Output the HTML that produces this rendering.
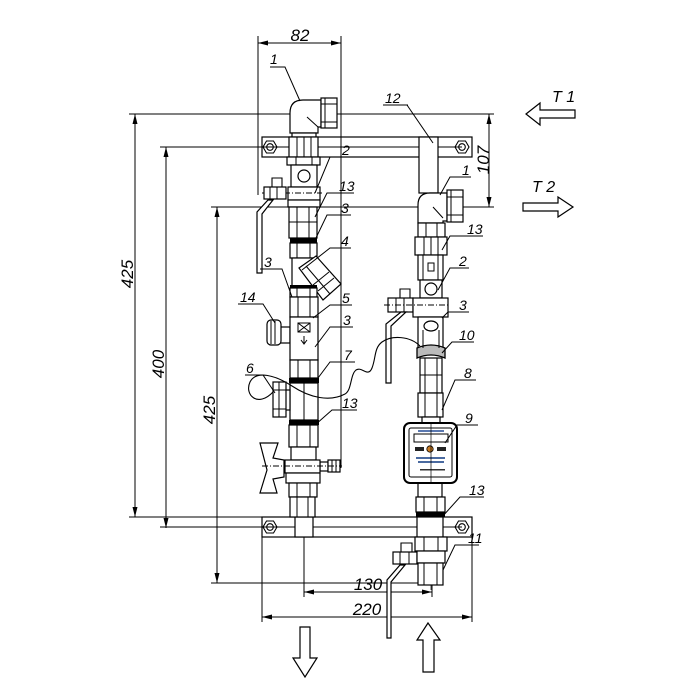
<!DOCTYPE html>
<html><head><meta charset="utf-8"><style>
html,body{margin:0;padding:0;background:#fff}
svg{display:block}
.p{fill:#fff;stroke:#000;stroke-width:1.2}
.t{font-family:"Liberation Sans",sans-serif;font-style:italic;fill:#000}
</style></head><body>
<svg width="700" height="700" viewBox="0 0 700 700" xmlns="http://www.w3.org/2000/svg">
<rect width="700" height="700" fill="#fff"/>
<!-- brackets -->
<rect x="262" y="137" width="210" height="20" class="p"/>
<rect x="262" y="517" width="210" height="20" class="p"/>
<g fill="#fff" stroke="#000" stroke-width="1.1">
<polygon points="277,147 273.5,153 266.5,153 263,147 266.5,141 273.5,141"/><circle cx="270" cy="147" r="3.3"/>
<polygon points="469,147 465.5,153 458.5,153 455,147 458.5,141 465.5,141"/><circle cx="462" cy="147" r="3.3"/>
<polygon points="277,527 273.5,533 266.5,533 263,527 266.5,521 273.5,521"/><circle cx="270" cy="527" r="3.3"/>
<polygon points="469,527 465.5,533 458.5,533 455,527 458.5,521 465.5,521"/><circle cx="462" cy="527" r="3.3"/>
</g>
<!-- dimension lines -->
<g stroke="#000" stroke-width="1" fill="none">
<line x1="258" y1="36" x2="258" y2="195"/>
<line x1="341" y1="36" x2="341" y2="468"/>
<line x1="258" y1="43" x2="341" y2="43"/>
<line x1="129" y1="114" x2="494" y2="114"/>
<line x1="135" y1="114" x2="135" y2="517"/>
<line x1="129" y1="517" x2="262" y2="517"/>
<line x1="160" y1="147" x2="462" y2="147"/>
<line x1="166" y1="147" x2="166" y2="528"/>
<line x1="160" y1="527" x2="462" y2="527"/>
<line x1="211" y1="207" x2="494" y2="207"/>
<line x1="217" y1="207" x2="217" y2="583"/>
<line x1="211" y1="583" x2="418" y2="583"/>
<line x1="489" y1="114" x2="489" y2="207"/>
<line x1="304" y1="537" x2="304" y2="597"/>
<line x1="432" y1="585" x2="432" y2="597"/>
<line x1="304" y1="592" x2="432" y2="592"/>
<line x1="262" y1="537" x2="262" y2="622"/>
<line x1="472" y1="537" x2="472" y2="622"/>
<line x1="262" y1="617" x2="472" y2="617"/>
<line x1="431" y1="423" x2="431" y2="590" stroke-width="0.7"/>
</g>
<g fill="#000">
<path d="M258,43 l10,-2.5 v5 z"/><path d="M341,43 l-10,-2.5 v5 z"/>
<path d="M135,114 l-2.5,10 h5 z"/><path d="M135,517 l-2.5,-10 h5 z"/>
<path d="M166,147 l-2.5,10 h5 z"/><path d="M166,528 l-2.5,-10 h5 z"/>
<path d="M217,207 l-2.5,10 h5 z"/><path d="M217,583 l-2.5,-10 h5 z"/>
<path d="M489,114 l-2.5,10 h5 z"/><path d="M489,207 l-2.5,-10 h5 z"/>
<path d="M304,592 l10,-2.5 v5 z"/><path d="M432,592 l-10,-2.5 v5 z"/>
<path d="M262,617 l10,-2.5 v5 z"/><path d="M472,617 l-10,-2.5 v5 z"/>
</g>

<!-- LEFT PIPE -->
<rect x="295" y="517" width="18" height="20" class="p"/>
<path d="M290,133 V113 Q290,100 303,100 H321 V127 H318 V133 Z" class="p"/>
<rect x="321" y="98" width="16" height="30" class="p"/>
<g stroke="#000" stroke-width="1" fill="none">
<line x1="321" y1="104" x2="337" y2="104"/><line x1="321" y1="122" x2="337" y2="122"/>
<line x1="325" y1="98" x2="325" y2="128"/>
<line x1="307" y1="117" x2="318" y2="127"/>
</g>
<rect x="292" y="133" width="24" height="4" class="p"/>
<rect x="289" y="137" width="29" height="20" class="p"/>
<rect x="287" y="157" width="33" height="8" class="p"/>
<rect x="291" y="165" width="26" height="22" class="p"/>
<circle cx="304" cy="176" r="6" class="p"/>
<rect x="288" y="187" width="32" height="13" class="p"/>
<rect x="288" y="200" width="32" height="7" class="p"/>
<rect x="289" y="207" width="28" height="31" class="p"/>
<rect x="290" y="238" width="27" height="5" fill="#000"/>
<rect x="290" y="243" width="27" height="15" class="p"/>
<rect x="292" y="258" width="24" height="29" class="p"/>
<polygon points="299,268 316,256 341,284 323,300" class="p"/>
<rect x="290" y="285" width="27" height="3" fill="#000"/>
<rect x="290" y="288" width="27" height="9" class="p"/>
<rect x="290" y="297" width="28" height="20" class="p"/>
<rect x="280" y="327" width="10" height="16" class="p"/>
<rect x="267" y="320" width="14" height="25" rx="4" class="p"/>
<rect x="290" y="317" width="28" height="43" class="p"/>
<rect x="290" y="360" width="28" height="18" class="p"/>
<rect x="289" y="378" width="30" height="5" fill="#000"/>
<rect x="290" y="383" width="28" height="37" class="p"/>
<rect x="285" y="390" width="5" height="20" class="p"/>
<rect x="273" y="382" width="13" height="35" class="p"/>
<rect x="289" y="420" width="30" height="5" fill="#000"/>
<rect x="289" y="425" width="29" height="22" class="p"/>
<rect x="291" y="447" width="25" height="13" class="p"/>
<rect x="320" y="462" width="8" height="9" class="p"/>
<rect x="328" y="460" width="12" height="12" class="p"/>
<rect x="285" y="460" width="35" height="13" class="p"/>
<path d="M260,443 L278,443 L273,458 L284,460 L284,477 L273,479 L277,493 L260,493 L267,470 Z" class="p"/>
<rect x="286" y="473" width="34" height="10" class="p"/>
<rect x="289" y="483" width="28" height="14" class="p"/>
<rect x="290" y="497" width="25" height="20" class="p"/>
<g stroke="#000" stroke-width="1" fill="none">
<line x1="297" y1="137" x2="297" y2="157"/><line x1="304" y1="137" x2="304" y2="157"/><line x1="311" y1="137" x2="311" y2="157"/>
<line x1="296" y1="157" x2="296" y2="165"/><line x1="312" y1="157" x2="312" y2="165"/>
<line x1="297" y1="207" x2="297" y2="238"/><line x1="309" y1="207" x2="309" y2="238"/><line x1="289" y1="222" x2="317" y2="222"/>
<line x1="297" y1="243" x2="297" y2="258"/><line x1="310" y1="243" x2="310" y2="258"/>
<line x1="297" y1="288" x2="297" y2="297"/><line x1="310" y1="288" x2="310" y2="297"/>
<line x1="298" y1="297" x2="298" y2="317"/><line x1="310" y1="297" x2="310" y2="317"/>
<line x1="298" y1="360" x2="298" y2="378"/><line x1="310" y1="360" x2="310" y2="378"/>
<line x1="304" y1="383" x2="304" y2="420"/>
<line x1="273" y1="390" x2="286" y2="390"/><line x1="273" y1="409" x2="286" y2="409"/><line x1="279" y1="382" x2="279" y2="417"/>
<line x1="297" y1="425" x2="297" y2="447"/><line x1="310" y1="425" x2="310" y2="447"/>
<line x1="297" y1="483" x2="297" y2="497"/><line x1="310" y1="483" x2="310" y2="497"/>
<line x1="297" y1="497" x2="297" y2="517"/><line x1="308" y1="497" x2="308" y2="517"/>
<line x1="332" y1="460" x2="332" y2="472"/><line x1="336" y1="460" x2="336" y2="472"/>
<line x1="271" y1="321" x2="271" y2="344"/><line x1="275" y1="321" x2="275" y2="344"/>
<line x1="329" y1="272" x2="313" y2="285"/><line x1="334" y1="278" x2="318" y2="291"/>
<line x1="306" y1="266" x2="330" y2="294"/>
<line x1="262" y1="193" x2="322" y2="193" stroke-dasharray="6,2,1,2"/>
<line x1="262" y1="466" x2="342" y2="466" stroke-dasharray="6,2,1,2"/>
<rect x="298" y="323" width="12" height="9"/><line x1="298" y1="323" x2="310" y2="332"/><line x1="310" y1="323" x2="298" y2="332"/>
<line x1="304" y1="336" x2="304" y2="343"/><path d="M301,340 L304,344 L307,340"/>
</g>
<!-- upper left handle -->
<path d="M272,190 V178 H282 V190" fill="none" stroke="#000" stroke-width="1.1"/>
<rect x="264" y="187" width="22" height="12" class="p"/>
<polygon points="268,200 273,200 262,214 262,273 257,273 257,212" class="p"/>
<g stroke="#000" stroke-width="1" fill="none"><line x1="270" y1="187" x2="270" y2="199"/><line x1="277" y1="187" x2="277" y2="199"/></g>

<!-- RIGHT PIPE -->
<rect x="419" y="137" width="19" height="56" class="p"/>
<path d="M418,223 V205 Q418,193 430,193 H447 V221 H443 V223 Z" class="p"/>
<rect x="447" y="190" width="16" height="32" class="p"/>
<rect x="418" y="223" width="27" height="14" class="p"/>
<rect x="415" y="237" width="32" height="18" class="p"/>
<rect x="418" y="255" width="25" height="25" class="p"/>
<rect x="420" y="280" width="22" height="18" class="p"/>
<circle cx="431" cy="289" r="6" class="p"/>
<rect x="388" y="298" width="25" height="14" class="p"/>
<rect x="413" y="298" width="35" height="19" class="p"/>
<path d="M400,298 V289 H410 V298" fill="none" stroke="#000" stroke-width="1.1"/>
<polygon points="401,312 406,312 391,326 391,383 386,383 386,324" class="p"/>
<rect x="418" y="317" width="25" height="31" class="p"/>
<ellipse cx="431" cy="326" rx="7" ry="5" class="p"/>
<rect x="420" y="358" width="22" height="35" class="p"/>
<path d="M417,348 Q431,342 445,348 V358 Q431,352 417,358 Z" fill="#bbb" stroke="#000" stroke-width="1.3"/>
<rect x="418" y="393" width="25" height="24" class="p"/>
<rect x="422" y="417" width="18" height="6" class="p"/>
<rect x="418" y="483" width="24" height="14" class="p"/>
<rect x="416" y="497" width="29" height="15" class="p"/>
<rect x="416" y="512" width="29" height="5" fill="#000"/>
<rect x="417" y="517" width="26" height="20" class="p"/>
<rect x="415" y="537" width="32" height="14" class="p"/>
<rect x="393" y="552" width="24" height="12" class="p"/>
<rect x="417" y="551" width="28" height="12" class="p"/>
<path d="M401,552 V543 H412 V552" fill="none" stroke="#000" stroke-width="1.1"/>
<polygon points="400,565 405,565 391,582 391,638 387,638 387,580" class="p"/>
<rect x="418" y="563" width="25" height="22" class="p"/>
<g stroke="#000" stroke-width="1" fill="none">
<line x1="447" y1="197" x2="463" y2="197"/><line x1="447" y1="215" x2="463" y2="215"/><line x1="451" y1="190" x2="451" y2="222"/>
<line x1="433" y1="207" x2="443" y2="218"/>
<line x1="426" y1="223" x2="426" y2="237"/><line x1="437" y1="223" x2="437" y2="237"/>
<line x1="424" y1="237" x2="424" y2="255"/><line x1="431" y1="237" x2="431" y2="255"/><line x1="438" y1="237" x2="438" y2="255"/>
<line x1="423" y1="255" x2="423" y2="280"/><line x1="438" y1="255" x2="438" y2="280"/>
<rect x="428" y="263" width="6" height="8"/>
<line x1="384" y1="305" x2="449" y2="305" stroke-dasharray="6,2,1,2"/>
<line x1="396" y1="298" x2="396" y2="312"/><line x1="404" y1="298" x2="404" y2="312"/>
<line x1="423" y1="330" x2="423" y2="348"/><line x1="439" y1="330" x2="439" y2="348"/>
<line x1="425" y1="358" x2="425" y2="393"/><line x1="437" y1="358" x2="437" y2="393"/><line x1="420" y1="375" x2="442" y2="375"/>
<line x1="425" y1="393" x2="425" y2="417"/><line x1="437" y1="393" x2="437" y2="417"/>
<line x1="424" y1="497" x2="424" y2="512"/><line x1="437" y1="497" x2="437" y2="512"/>
<line x1="424" y1="537" x2="424" y2="551"/><line x1="438" y1="537" x2="438" y2="551"/>
<line x1="400" y1="552" x2="400" y2="564"/><line x1="409" y1="552" x2="409" y2="564"/>
<line x1="424" y1="563" x2="424" y2="585"/><line x1="437" y1="563" x2="437" y2="585"/>
</g>
<!-- meter -->
<rect x="404" y="423" width="53" height="60" rx="6" fill="#fff" stroke="#000" stroke-width="2"/>
<rect x="409" y="428" width="43" height="49" rx="2" fill="#fff" stroke="#000" stroke-width="1"/>
<rect x="414" y="434" width="34" height="8" fill="#fff" stroke="#000" stroke-width="1"/>
<rect x="418" y="430" width="26" height="2" fill="#5a78b0"/>
<rect x="415" y="447" width="9" height="4" fill="#222"/>
<rect x="437" y="447" width="9" height="4" fill="#222"/>
<circle cx="430" cy="449" r="3.2" fill="#c87a22" stroke="#000" stroke-width="0.8"/>
<rect x="416" y="457" width="29" height="2" fill="#4a6aa0"/>
<rect x="418" y="461" width="26" height="2" fill="#4a6aa0"/>
<rect x="420" y="469" width="25" height="1.5" fill="#333"/>
<line x1="431" y1="423" x2="431" y2="483" stroke="#000" stroke-width="0.7"/>

<!-- cable -->
<path d="M273,392 C258,408 244,395 250,382 C256,370 275,375 292,386 C310,398 330,402 345,394 C352,390 350,375 356,370 C362,366 368,378 372,368 C376,358 374,348 382,342 C392,335 410,336 420,346" fill="none" stroke="#000" stroke-width="1.1"/>

<!-- leaders -->
<g stroke="#000" stroke-width="1" fill="none">
<polyline points="270,67 285,67 300,101"/>
<polyline points="408,105 383,105"/><line x1="407" y1="105" x2="433" y2="143"/>
<polyline points="352,157 330,157 315,193"/>
<polyline points="354,193 327,193 315,217"/>
<polyline points="351,215 327,215 315,240"/>
<polyline points="351,248 330,248 302,270"/>
<polyline points="260,269 282,269 292,297"/>
<polyline points="238,304 263,304 275,323"/>
<polyline points="352,305 330,305 313,318"/>
<polyline points="353,327 330,327 315,347"/>
<polyline points="355,362 330,362 315,382"/>
<polyline points="245,375 263,375 275,393"/>
<polyline points="357,410 332,410 315,425"/>
<polyline points="471,177 450,177 440,195"/>
<polyline points="483,236 450,236 442,250"/>
<polyline points="469,268 450,268 438,290"/>
<polyline points="469,312 448,312 442,318"/>
<polyline points="474,342 452,342 442,353"/>
<polyline points="476,380 455,380 442,410"/>
<polyline points="478,425 457,425 445,443"/>
<polyline points="484,497 460,497 442,517"/>
<polyline points="479,545 455,545 443,570"/>
</g>

<!-- flow arrows -->
<g fill="#fff" stroke="#000" stroke-width="1.2">
<polygon points="526,114 540,103 540,110 575,110 575,118 540,118 540,125"/>
<polygon points="523,203 558,203 558,197 573,207 558,217 558,211 523,211"/>
<polygon points="300,627 310,627 310,658 317,658 305,677 293,658 300,658"/>
<polygon points="428,623 440,640 434,640 434,672 423,672 423,640 417,640"/>
</g>

<!-- text -->
<g class="t" font-size="17">
<text x="300" y="41" text-anchor="middle">82</text>
<text transform="translate(133,274) rotate(-90)" text-anchor="middle">425</text>
<text transform="translate(164,364) rotate(-90)" text-anchor="middle">400</text>
<text transform="translate(215,410) rotate(-90)" text-anchor="middle">425</text>
<text transform="translate(489,160) rotate(-90)" text-anchor="middle">107</text>
<text x="368" y="590" text-anchor="middle">130</text>
<text x="367" y="615" text-anchor="middle">220</text>
<text x="552" y="102" font-size="16">T 1</text>
<text x="532" y="192" font-size="16">T 2</text>
</g>
<g class="t" font-size="14">
<text x="270" y="64">1</text>
<text x="385" y="103">12</text>
<text x="342" y="155">2</text>
<text x="339" y="191">13</text>
<text x="341" y="213">3</text>
<text x="341" y="246">4</text>
<text x="264" y="267">3</text>
<text x="240" y="302">14</text>
<text x="342" y="303">5</text>
<text x="343" y="325">3</text>
<text x="344" y="360">7</text>
<text x="246" y="373">6</text>
<text x="342" y="408">13</text>
<text x="462" y="175">1</text>
<text x="467" y="234">13</text>
<text x="459" y="266">2</text>
<text x="459" y="310">3</text>
<text x="459" y="340">10</text>
<text x="464" y="378">8</text>
<text x="465" y="423">9</text>
<text x="469" y="495">13</text>
<text x="468" y="543">11</text>
</g>
</svg>
</body></html>
